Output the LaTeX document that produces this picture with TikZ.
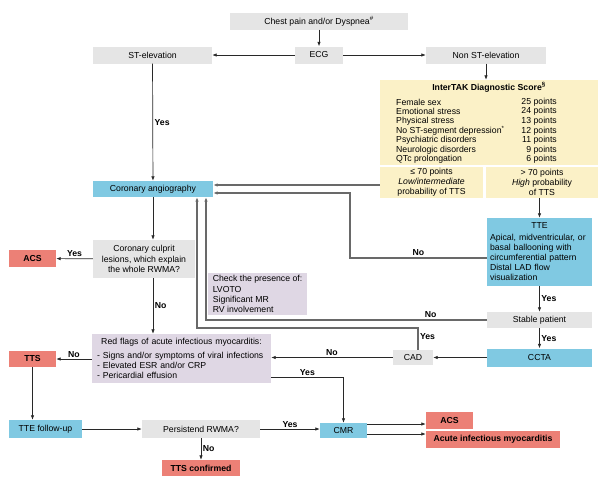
\documentclass[tikz,border=0pt]{standalone}
\usepackage{fontspec}
\setmainfont{Liberation Sans}
\usepackage{tikz}
\usetikzlibrary{arrows.meta}

\definecolor{boxgray}{RGB}{229,229,229}
\definecolor{boxyellow}{RGB}{251,241,199}
\definecolor{boxblue}{RGB}{128,201,226}
\definecolor{boxred}{RGB}{236,128,118}
\definecolor{boxlilac}{RGB}{223,215,228}
\definecolor{linedark}{RGB}{40,40,40}
\definecolor{linegray}{RGB}{105,105,105}

\begin{document}
\begin{tikzpicture}[x=1pt,y=-1pt,font=\fontsize{8.7}{10.2}\selectfont]
                \tikzstyle{box}=[rectangle,inner sep=0pt,align=center]
                \tikzstyle{grey}=[box,fill=boxgray]
                \tikzstyle{yellow}=[box,fill=boxyellow]
                \tikzstyle{blue}=[box,fill=boxblue]
                \tikzstyle{red}=[box,fill=boxred,font=\fontsize{8.7}{10.2}\selectfont\bfseries]
                \tikzstyle{lilac}=[box,fill=boxlilac]
                \tikzstyle{arrow}=[-{Latex[length=4.5pt,width=3.5pt]},draw=linedark,line width=0.7pt]
                \tikzstyle{back}=[-{Latex[length=4.5pt,width=3.5pt]},draw=linegray,line width=1.1pt]
                \tikzstyle{lbl}=[inner sep=1.5pt,font=\fontsize{8.7}{10.2}\selectfont\bfseries]

                \useasboundingbox (0,0) rectangle (600,482);

                \node[grey,minimum width=178,minimum height=17] (chest) at (319,21) {Chest pain and/or Dyspnea\textsuperscript{\#}};
                \node[grey,minimum width=48,minimum height=17] (ecg) at (319,55) {ECG};
                \node[grey,minimum width=119,minimum height=17] (stelev) at (152.5,55) {ST-elevation};
                \node[grey,minimum width=120,minimum height=17] (nonst) at (486,55) {Non ST-elevation};

                \node[yellow,minimum width=218,minimum height=85] (intertak) at (489,122.5) {};
                \node[font=\fontsize{8.7}{10.2}\selectfont\bfseries] (intertak-title) at (489,87) {InterTAK Diagnostic Score\textsuperscript{\S}};
                \foreach \i/\risk/\pts in {0/Female sex/25, 1/Emotional stress/24, 2/Physical stress/13,
                        3/No ST-segment depression\textsuperscript{*}/12, 4/Psychiatric disorders/11,
                        5/Neurologic disorders/9, 6/QTc prolongation/6}
                {
                        \node[anchor=west,inner sep=0pt] (risk-\i) at (396,{102+\i*9.6}) {\risk};
                        \node[anchor=east,inner sep=0pt] (pts-\i) at (557,{102+\i*9.6}) {\pts\ points};
                }
                \node[yellow,minimum width=103,minimum height=31] (lowbox) at (431.5,182.5) {≤ 70 points\\ \textit{Low/intermediate}\\ probability of TTS};
                \node[yellow,minimum width=112,minimum height=31] (highbox) at (542,182.5) {> 70 points\\ \textit{High} probability\\ of TTS};

                \node[blue,minimum width=120,minimum height=16] (ca) at (153,189) {Coronary angiography};
                \node[grey,minimum width=102,minimum height=38] (culprit) at (144,259) {Coronary culprit\\ lesions, which explain\\ the whole RWMA?};
                \node[red,minimum width=47,minimum height=17] (acs-left) at (32.5,258.5) {ACS};
                \node[lilac,minimum width=99,minimum height=42,align=left] (check) at (257.5,294) {Check the presence of:\\ LVOTO\\ Significant MR\\ RV involvement};

                \node[blue,minimum width=105,minimum height=68,text width=99,align=left] (tte) at (539.5,252)
                        {\makebox[\linewidth]{TTE}\\[1pt] Apical, midventricular, or\\ basal ballooning with\\ circumferential pattern\\ Distal LAD flow\\ visualization};
                \node[grey,minimum width=105,minimum height=16] (stable) at (539.5,320) {Stable patient};
                \node[blue,minimum width=105,minimum height=18] (ccta) at (539.5,357.5) {CCTA};
                \node[grey,minimum width=40,minimum height=15] (cad) at (413,357.5) {CAD};

                \node[lilac,minimum width=179,minimum height=49,text width=169,align=left] (redflags) at (181.5,358.5)
                        {\makebox[\linewidth]{Red flags of acute infectious myocarditis:}\\[3pt] - Signs and/or symptoms of viral infections\\ - Elevated ESR and/or CRP\\ - Pericardial effusion};
                \node[red,minimum width=47,minimum height=16] (tts) at (32.5,359) {TTS};
                \node[blue,minimum width=73,minimum height=18] (ttefu) at (45.5,429) {TTE follow-up};
                \node[grey,minimum width=118,minimum height=18] (persist) at (201,429) {Persistend RWMA?};
                \node[red,minimum width=78,minimum height=16] (ttsconf) at (201,468) {TTS confirmed};
                \node[blue,minimum width=47,minimum height=15] (cmr) at (343.5,430.5) {CMR};
                \node[red,minimum width=47,minimum height=17] (acs-right) at (449.5,420.5) {ACS};
                \node[red,minimum width=134,minimum height=17] (aim) at (493,439.5) {Acute infectious myocarditis};

                \draw[arrow] (chest) -- (ecg);
                \draw[arrow] (ecg) -- (stelev);
                \draw[arrow] (ecg) -- (nonst);
                \draw[arrow] (nonst.south) -- (nonst.south |- intertak.north);
                \draw[arrow] (stelev) -- node[lbl,right] {Yes} (ca);
                \draw[arrow] (ca.south) -- (ca.south |- culprit.north);
                \draw[arrow] (culprit) -- node[lbl,above] {Yes} (acs-left);
                \draw[arrow] (ca.south |- culprit.south) -- node[lbl,right] {No} (ca.south |- redflags.north);

                \draw[back] ([yshift=-2.5pt]lowbox.west) -- ([yshift=4pt]ca.east);
                \coordinate (bend-tte) at (350,193);
                \draw[back] ([yshift=-6pt]tte.west) -| node[lbl,above,pos=0.25] {No} (bend-tte) -- ([yshift=-4pt]ca.east);
                \draw[arrow] (tte.north |- highbox.south) -- (tte.north);
                \draw[arrow] (tte) -- node[lbl,right] {Yes} (stable);
                \draw[arrow] (stable) -- node[lbl,right] {Yes} (ccta);
                \draw[back] (stable.west) -| node[lbl,above,pos=0.1] {No} ([xshift=53pt]ca.south);
                \draw[arrow] (ccta) -- (cad);
                \coordinate (bend-cad) at (197,328);
                \draw[back] ([xshift=5pt]cad.north) |- node[lbl,right,pos=0.3] {Yes} (bend-cad) -- ([xshift=44pt]ca.south);
                \draw[arrow] (cad.west) -- node[lbl,above] {No} (cad.west -| redflags.east);
                \draw[arrow] ([yshift=-18.5pt]redflags.east) -| node[lbl,above,pos=0.25] {Yes} (cmr.north);

                \draw[arrow] (redflags.west |- tts.east) -- node[lbl,above] {No} (tts.east);
                \draw[arrow] (tts.south) -- (tts.south |- ttefu.north);
                \draw[arrow] (ttefu) -- (persist);
                \draw[arrow] (persist.east) -- node[lbl,above] {Yes} (persist.east -| cmr.west);
                \draw[arrow] (persist) -- node[lbl,right] {No} (ttsconf);
                \draw[arrow] ([yshift=6.5pt]cmr.east) -- ([yshift=-3.5pt]acs-right.west);
                \draw[arrow] ([yshift=-3.5pt]cmr.east) -- ([yshift=5.5pt]aim.west);
\end{tikzpicture}
\end{document}
